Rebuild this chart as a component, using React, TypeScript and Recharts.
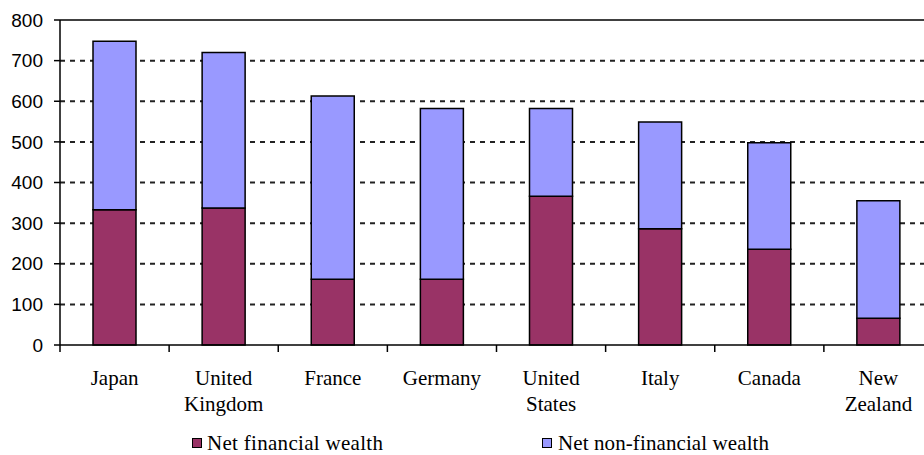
import React from 'react';
import { BarChart, Bar, XAxis, YAxis, CartesianGrid, ReferenceLine, Legend } from 'recharts';

const categories = ['Japan', 'United\nKingdom', 'France', 'Germany', 'United\nStates', 'Italy', 'Canada', 'New\nZealand'];
const netFinancial = [333, 337, 162, 162, 366, 286, 236, 66];
const netNonFinancial = [415, 383, 451, 420, 216, 263, 262, 289];
const yTicks = [0, 100, 200, 300, 400, 500, 600, 700, 800];

const chartData = categories.map((c, i) => ({
  country: c,
  financial: netFinancial[i],
  nonFinancial: netNonFinancial[i],
}));

const W = 960;
const H = 455;
const LEGEND_H = 24;
// legend height gets taken from the bottom, so the plot ends at y=345
const MARGIN = { top: 20, right: 27, bottom: 30 - LEGEND_H, left: 0 };
const Y_W = 60;
const STEP = (W - MARGIN.left - MARGIN.right - Y_W) / categories.length;

const SERIF = 'Liberation Serif, DejaVu Serif, serif';
const SANS = 'Liberation Sans, DejaVu Sans, sans-serif';

const CategoryTick = (props: any) => {
  const { x, y, payload } = props;
  const lines = String(payload.value).split('\n');
  const left = x - STEP / 2;
  return (
    <g>
      <line x1={left} x2={left} y1={y} y2={y + 7} stroke="#000" strokeWidth={1.5} />
      <text x={x} y={y + 40} textAnchor="middle" style={{ fontFamily: SERIF, fontSize: 21 }} fill="#000">
        {lines.map((l, i) => (
          <tspan key={i} x={x} dy={i === 0 ? 0 : 26}>{l}</tspan>
        ))}
      </text>
    </g>
  );
};

const LegendContent = () => (
  <div style={{ position: 'relative', width: 924, height: LEGEND_H, fontFamily: SERIF, fontSize: 21, color: '#000' }}>
    <div style={{ position: 'absolute', left: 192, top: 5, width: 8, height: 8, background: '#993366', border: '1px solid #000' }} />
    <span style={{ position: 'absolute', left: 207, top: -2, whiteSpace: 'nowrap', letterSpacing: 0.3 }}>Net financial wealth</span>
    <div style={{ position: 'absolute', left: 542, top: 5, width: 8, height: 8, background: '#9999FF', border: '1px solid #000' }} />
    <span style={{ position: 'absolute', left: 558, top: -2, whiteSpace: 'nowrap', letterSpacing: 0.1 }}>Net non-financial wealth</span>
  </div>
);

export default function App() {
  return (
    <div style={{ position: 'fixed', left: 0, top: 0, width: 924, height: 455, overflow: 'hidden', background: '#fff' }}>
      <BarChart width={W} height={H} data={chartData} margin={MARGIN} barSize={43}>
        <CartesianGrid
          vertical={false}
          horizontalValues={[100, 200, 300, 400, 500, 600, 700]}
          stroke="#222"
          strokeWidth={2}
          strokeDasharray="5 5"
        />
        <ReferenceLine y={800} stroke="#000" strokeWidth={1.5} />
        <XAxis
          dataKey="country"
          interval={0}
          height={80}
          tickSize={0}
          tickMargin={0}
          tickLine={false}
          axisLine={{ stroke: '#000', strokeWidth: 1.5 }}
          tick={<CategoryTick />}
        />
        <YAxis
          width={Y_W}
          domain={[0, 800]}
          ticks={yTicks}
          interval={0}
          tickSize={6}
          tickMargin={11}
          axisLine={{ stroke: '#000', strokeWidth: 1.5 }}
          tickLine={{ stroke: '#000', strokeWidth: 1.5 }}
          tick={{ fill: '#000', fontFamily: SANS, fontSize: 19 }}
        />
        <Legend content={<LegendContent />} wrapperStyle={{ left: 0, top: 433, width: 924, height: LEGEND_H }} />
        <Bar dataKey="financial" stackId="a" fill="#993366" stroke="#000" strokeWidth={1.5} isAnimationActive={false} />
        <Bar dataKey="nonFinancial" stackId="a" fill="#9999FF" stroke="#000" strokeWidth={1.5} isAnimationActive={false} />
      </BarChart>
    </div>
  );
}
